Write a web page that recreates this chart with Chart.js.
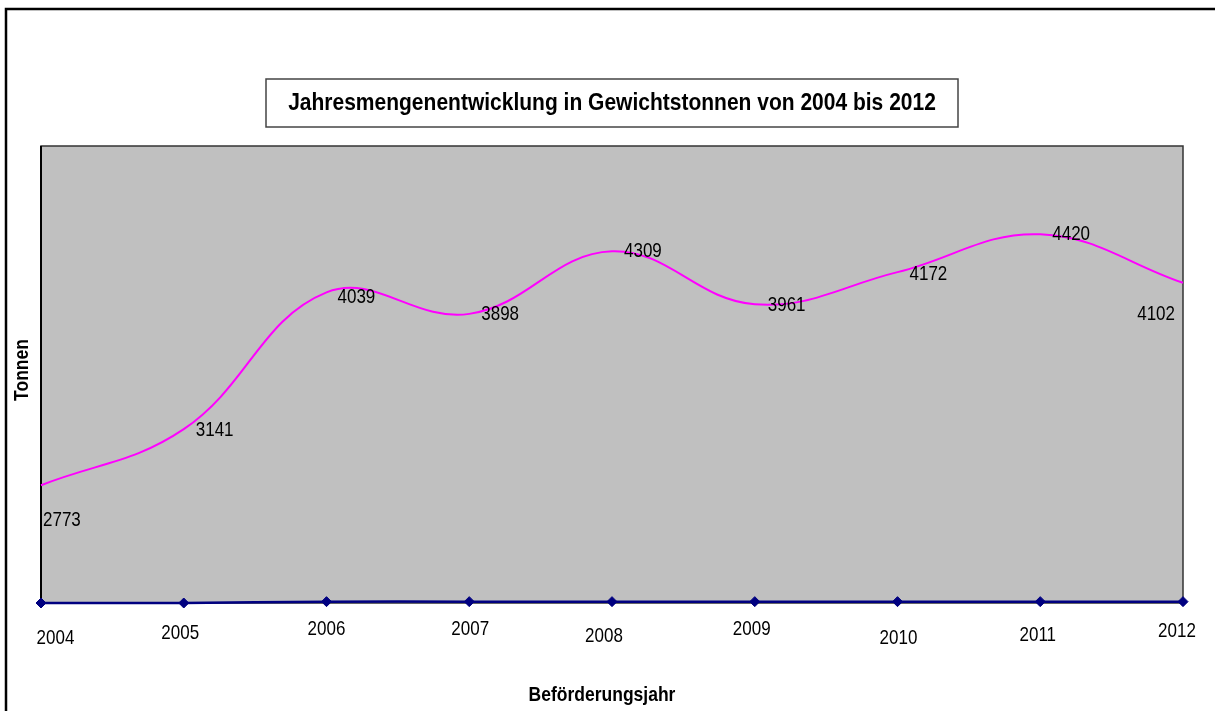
<!DOCTYPE html>
<html>
<head>
<meta charset="utf-8">
<title>Jahresmengenentwicklung</title>
<script src="https://cdn.jsdelivr.net/npm/chart.js@4/dist/chart.umd.min.js"></script>
<style>
  html, body { margin: 0; padding: 0; background: #fff; }
  #wrap { width: 1215px; height: 711px; position: relative; }
</style>
</head>
<body>
<div id="wrap"><canvas id="chart" width="1215" height="711"></canvas></div>
<script>
// Daten
const jahre = ['2004', '2005', '2006', '2007', '2008', '2009', '2010', '2011', '2012'];
const tonnen = [2773, 3141, 4039, 3898, 4309, 3961, 4172, 4420, 4102];
const zweiteReihe = [0, 0, 3, 3, 3, 3, 3, 3, 3];

const titel = 'Jahresmengenentwicklung in Gewichtstonnen von 2004 bis 2012';
const xTitel = 'Beförderungsjahr';
const yTitel = 'Tonnen';

// Lage der Beschriftungen relativ zum Punkt (wie im Original verschoben)
const wertVersatz = [[2, 35, 'left'], [12, 1, 'left'], [11, 5, 'left'], [12, 1, 'left'], [12, 0, 'left'],
  [13, 1, 'left'], [12, 2, 'left'], [12, 0, 'left'], [-8, 32, 'right']];
const jahrVersatz = [[14.5, 36], [-3.5, 31], [0, 26.5], [1, 26.5], [-8, 34], [-3, 27], [1, 36], [-2.5, 32.5], [-6, 29]];

const FONT = '"Liberation Sans", Arial, sans-serif';
const STRETCH = 1.15;

function text(ctx, s, x, y, font, align, rot) {
  ctx.save();
  ctx.translate(x, y);
  if (rot) ctx.rotate(rot);
  ctx.scale(1, STRETCH);
  ctx.font = font;
  ctx.fillStyle = '#000';
  ctx.textAlign = align || 'center';
  ctx.textBaseline = 'middle';
  ctx.fillText(s, 0, 0);
  ctx.restore();
}

// Rahmen, grauer Hintergrund, Titel und Texte
const deko = {
  id: 'deko',
  beforeDraw(chart) {
    const { ctx, chartArea: a } = chart;
    ctx.save();
    ctx.fillStyle = '#fff';
    ctx.fillRect(0, 0, chart.width, chart.height);
    ctx.strokeStyle = '#000';
    ctx.lineWidth = 2.5;
    ctx.strokeRect(6, 9, chart.width + 10, chart.height + 10);
    ctx.fillStyle = '#C0C0C0';
    ctx.fillRect(a.left, a.top, a.right - a.left, a.bottom - a.top);
    ctx.restore();
  },
  beforeDatasetsDraw(chart) {
    const { ctx, chartArea: a } = chart;
    ctx.save();
    ctx.strokeStyle = '#333';
    ctx.lineWidth = 1.5;
    ctx.strokeRect(a.left, a.top, a.right - a.left, a.bottom - a.top);
    ctx.strokeStyle = '#000';
    ctx.lineWidth = 2;
    ctx.beginPath();
    ctx.moveTo(a.left, a.top);
    ctx.lineTo(a.left, a.bottom + 1);
    ctx.stroke();
    ctx.restore();
  },
  afterDraw(chart) {
    const { ctx, chartArea: a } = chart;
    const xs = chart.scales.x;

    // Titelkasten
    ctx.save();
    ctx.fillStyle = '#fff';
    ctx.fillRect(266, 79, 692, 48);
    ctx.strokeStyle = '#444';
    ctx.lineWidth = 1.5;
    ctx.strokeRect(266, 79, 692, 48);
    ctx.restore();
    text(ctx, titel, 612, 103, 'bold 21px ' + FONT);

    // Achsentitel
    text(ctx, xTitel, 602, 695, 'bold 17.5px ' + FONT);
    text(ctx, yTitel, 22, 370, 'bold 17.5px ' + FONT, 'center', -Math.PI / 2);

    // Jahreszahlen unter der Achse
    jahre.forEach((j, i) => {
      const x = xs.getPixelForValue(i);
      text(ctx, j, x + jahrVersatz[i][0], a.bottom + jahrVersatz[i][1], '17px ' + FONT);
    });

    // Werte an der Linie
    const meta = chart.getDatasetMeta(0);
    meta.data.forEach((pt, i) => {
      const v = wertVersatz[i];
      text(ctx, String(tonnen[i]), pt.x + v[0], pt.y + v[1], '17px ' + FONT, v[2]);
    });
  }
};

const ctx = document.getElementById('chart').getContext('2d');
new Chart(ctx, {
  type: 'line',
  data: {
    labels: jahre,
    datasets: [
      {
        label: 'Tonnen',
        data: tonnen,
        yAxisID: 'y',
        borderColor: '#FF00FF',
        borderWidth: 2,
        pointRadius: 0,
        tension: 0.4,
        fill: false
      },
      {
        label: 'Reihe 2',
        data: zweiteReihe,
        yAxisID: 'y2',
        borderColor: '#000080',
        backgroundColor: '#000080',
        borderWidth: 2.5,
        pointStyle: 'rectRot',
        pointRadius: 5,
        pointBorderWidth: 1,
        pointBorderColor: '#000080',
        pointBackgroundColor: '#000080',
        tension: 0.4,
        fill: false,
        clip: false
      }
    ]
  },
  options: {
    responsive: false,
    animation: false,
    layout: { padding: { left: 41, top: 146, right: 32, bottom: 108 } },
    plugins: {
      legend: { display: false },
      title: { display: false },
      tooltip: { enabled: false }
    },
    scales: {
      x: { display: false, offset: false },
      y: { display: false, min: 2000, max: 5000 },
      y2: { display: false, min: 0, max: 1000 }
    }
  },
  plugins: [deko]
});
</script>
</body>
</html>
